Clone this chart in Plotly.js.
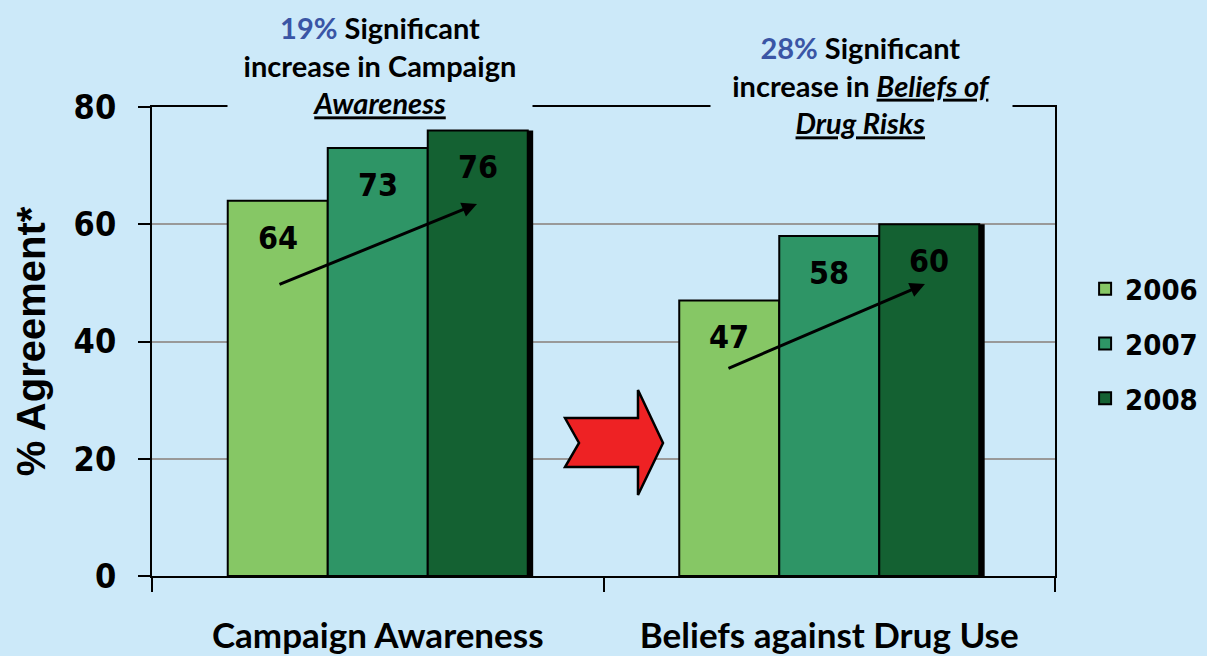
<!DOCTYPE html>
<html>
<head>
<meta charset="utf-8">
<script src="https://cdn.plot.ly/plotly-3.0.1.min.js"></script>
<style>html,body{margin:0;padding:0;background:#cce9f9;}</style>
</head>
<body>
<div id="chart" style="width:1207px;height:656px;"></div>
<script>
// ---- data ----
const categories = ["Campaign Awareness", "Beliefs against Drug Use"];
const years = ["2006", "2007", "2008"];
const values2006 = [64, 47];
const values2007 = [73, 58];
const values2008 = [76, 60];
const yTickVals = [0, 20, 40, 60, 80];
const yTickText = ["0", "20", "40", "60", "80"];
const yTitle = "% Agreement*";
const note1 = {pct: "19%", lines: ["Significant", "increase in Campaign"], emph: ["Awareness"]};
const note2 = {pct: "28%", lines: ["Significant", "increase in "], emph: ["Beliefs of", "Drug Risks"]};

// ---- styling ----
const BG = "#cce9f9";
const colors = ["#86c765", "#2e9566", "#146132"];
const numFont = "DejaVu Sans Condensed, DejaVu Sans, sans-serif";
const textFont = "Lato, Open Sans, sans-serif";
const barW = 0.2215;
const start = -1.5 * barW;
const series = [values2006, values2007, values2008];

const traces = [];
// shadow behind last bar
traces.push({
  type: "bar", x: categories, y: values2008,
  offset: start + 2 * barW + 0.012, width: barW,
  marker: {color: "#000000", line: {width: 0}},
  showlegend: false, hoverinfo: "skip"
});
series.forEach((vals, j) => {
  traces.push({
    type: "bar", name: years[j], x: categories, y: vals,
    offset: start + j * barW, width: barW,
    marker: {color: colors[j], line: {color: "#000000", width: 2}},
    legendgroup: years[j]
  });
});

const annotations = [];
// value labels
series.forEach((vals, j) => {
  vals.forEach((v, i) => {
    annotations.push({
      x: i + start + (j + 0.5) * barW, y: v, xref: "x", yref: "y",
      text: String(v), showarrow: false, xanchor: "center", yanchor: "middle", yshift: -37,
      font: {family: numFont, size: 32, color: "#000000", weight: "bold"}
    });
  });
});
// trend arrows
annotations.push({xref: "paper", yref: "paper", x: 0.3599, y: 0.7932, ax: -199, ay: 81,
  axref: "pixel", ayref: "pixel", showarrow: true, arrowhead: 2, arrowsize: 1, arrowwidth: 3,
  arrowcolor: "#000000", text: ""});
annotations.push({xref: "paper", yref: "paper", x: 0.856, y: 0.6226, ax: -198, ay: 85,
  axref: "pixel", ayref: "pixel", showarrow: true, arrowhead: 2, arrowsize: 1, arrowwidth: 3,
  arrowcolor: "#000000", text: ""});
// headline notes
function noteText(n) {
  return "<span style='color:#3a55a5'>" + n.pct + "</span> " + n.lines[0] + "<br>" + n.lines[1];
}
annotations.push({xref: "paper", yref: "paper", x: 0.2524, y: 1.0, xanchor: "center", yanchor: "middle", yshift: 42,
  showarrow: false, bgcolor: BG, borderpad: 6, width: 292,
  text: noteText(note1) + "<br><i><u>" + note1.emph[0] + "</u></i>",
  font: {family: textFont, size: 29, color: "#000000", weight: "bold"}});
annotations.push({xref: "paper", yref: "paper", x: 0.7862, y: 1.0, xanchor: "center", yanchor: "middle", yshift: 22,
  showarrow: false, bgcolor: BG, borderpad: 6, width: 289,
  text: noteText(note2) + "<i><u>" + note2.emph[0] + "</u></i><br><i><u>" + note2.emph[1] + "</u></i>",
  font: {family: textFont, size: 29, color: "#000000", weight: "bold"}});

const shapes = [{
  type: "path", xref: "paper", yref: "paper",
  path: "M0.4574,0.3369 L0.5382,0.3369 L0.5382,0.3966 L0.5659,0.2836 L0.5382,0.1727 L0.5382,0.2324 L0.4574,0.2324 L0.4729,0.2836 Z",
  fillcolor: "#ee2224", line: {color: "#000000", width: 2.5}
}];

const layout = {
  width: 1207, height: 656,
  paper_bgcolor: BG, plot_bgcolor: BG,
  margin: {l: 152, r: 152, t: 107, b: 80},
  barmode: "overlay",
  showlegend: true,
  legend: {xref: "container", yref: "container", x: 0.899, xanchor: "left", y: 0.4756, yanchor: "middle",
    bgcolor: "rgba(0,0,0,0)",
    font: {family: numFont, size: 29, color: "#000000", weight: "bold"},
    tracegroupgap: 14, itemclick: false},
  xaxis: {type: "category", categoryarray: categories, tickson: "boundaries",
    ticks: "outside", ticklen: 14, tickwidth: 2, tickcolor: "#000000",
    showline: true, linecolor: "#000000", linewidth: 2, mirror: true,
    showgrid: false, range: [-0.5, 1.5], ticklabelstandoff: 28,
    tickfont: {family: textFont, size: 35, color: "#000000", weight: "bold"}},
  yaxis: {range: [0, 80], tickvals: yTickVals, ticktext: yTickText,
    ticks: "outside", ticklen: 12, tickwidth: 2, tickcolor: "#000000",
    showline: true, linecolor: "#000000", linewidth: 2, mirror: true,
    showgrid: true, gridcolor: "#999999", gridwidth: 2, zeroline: false,
    ticklabelstandoff: 15,
    tickfont: {family: numFont, size: 34, color: "#000000", weight: "bold"},
    title: {text: yTitle, standoff: 16, font: {family: "Liberation Sans, Arial, sans-serif", size: 40, color: "#000000", weight: "bold"}}},
  annotations: annotations,
  shapes: shapes,
  font: {family: textFont}
};

Plotly.newPlot("chart", traces, layout, {displayModeBar: false, staticPlot: true});
</script>
</body>
</html>
